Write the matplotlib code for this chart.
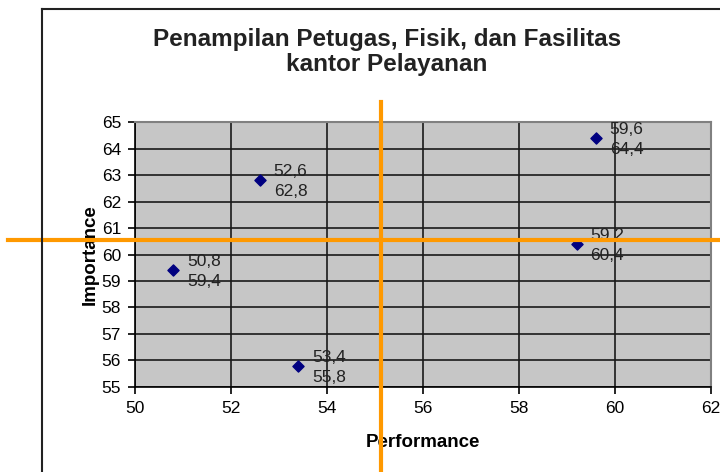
import numpy as np
import matplotlib.pyplot as plt
from matplotlib.lines import Line2D

plt.rcParams['font.family'] = ['Liberation Sans', 'DejaVu Sans']

# performance (x) and importance (y) per item
performance = [50.8, 52.6, 53.4, 59.2, 59.6]
importance = [59.4, 62.8, 55.8, 60.4, 64.4]
x_ticks = [50, 52, 54, 56, 58, 60, 62]
y_ticks = [55, 56, 57, 58, 59, 60, 61, 62, 63, 64, 65]

# quadrant lines at the means
x_mean = np.mean(performance)
y_mean = np.mean(importance)

fig = plt.figure(figsize=(7.2, 4.72), dpi=100)
ax = fig.add_axes([0.1875, 0.1801, 0.8, 0.5614])
ax.set_facecolor("#C6C6C6")

ax.scatter(performance, importance, marker="D", s=32, color="#000080", zorder=3)
for x, y in zip(performance, importance):
	lbl = ("%.1f\n%.1f" % (x, y)).replace(".", ",")
	ax.annotate(lbl, (x, y), xytext=(10, -1), textcoords="offset points",
		ha="left", va="center", fontsize=12.5, color="#222222", linespacing=1.4, zorder=4)

ax.set_xlim(50, 62)
ax.set_ylim(55, 65)
ax.set_xticks(x_ticks)
ax.set_yticks(y_ticks)
ax.tick_params(labelsize=12.5, length=5, width=1.2, direction="out", pad=5)
ax.grid(True, color="#1a1a1a", lw=1.2)
ax.set_axisbelow(True)
for s in ["left", "bottom"]:
	ax.spines[s].set_color("black")
	ax.spines[s].set_linewidth(1.2)
for s in ["top", "right"]:
	ax.spines[s].set_color("#808080")
	ax.spines[s].set_linewidth(1.5)

ax.set_xlabel("Performance", fontsize=13.5, fontweight="bold", labelpad=13)
ax.set_ylabel("Importance", fontsize=13.5, fontweight="bold", labelpad=2)

ax.axvline(x_mean, ymin=-0.33, ymax=1.076, color="#FF9900", lw=3, clip_on=False, zorder=5)
ax.axhline(y_mean, xmin=-0.22, xmax=1.02, color="#FF9900", lw=3, clip_on=False, zorder=5)

fig.text(0.5375, 0.89, "Penampilan Petugas, Fisik, dan Fasilitas\nkantor Pelayanan",
	ha="center", va="center", fontsize=17.5, fontweight="bold", color="#222222", linespacing=1.15)

# chart area frame (cropped on right and bottom)
fig.add_artist(Line2D([42/720, 42/720], [0, 1 - 9/472], transform=fig.transFigure, color="#222222", lw=1.5))
fig.add_artist(Line2D([42/720, 1], [1 - 9/472, 1 - 9/472], transform=fig.transFigure, color="#222222", lw=1.5))

plt.savefig("out.png", dpi=100)
